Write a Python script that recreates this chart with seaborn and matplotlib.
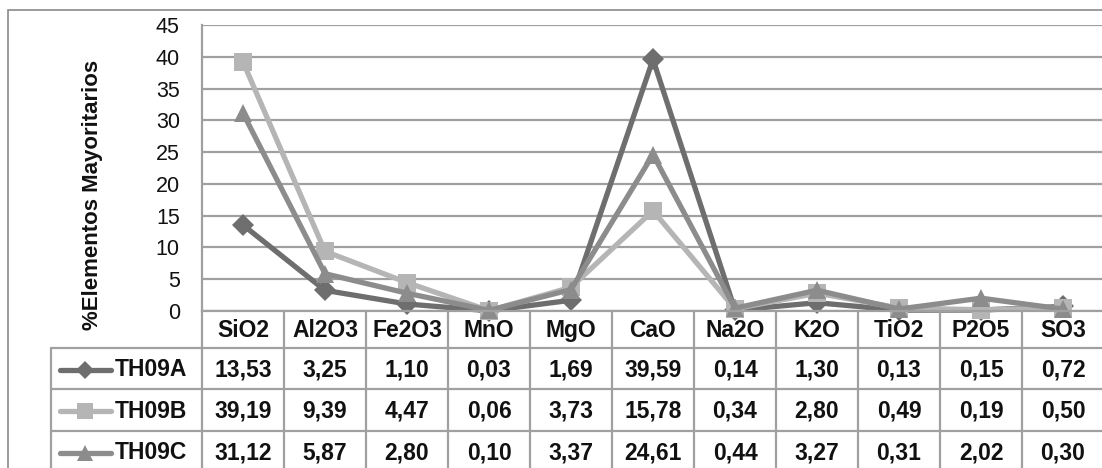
import matplotlib
matplotlib.use("Agg")
import matplotlib.pyplot as plt
import seaborn as sns
import pandas as pd
from matplotlib.patches import Rectangle

# ---------------- data ----------------
categories = ["SiO2", "Al2O3", "Fe2O3", "MnO", "MgO", "CaO", "Na2O", "K2O", "TiO2", "P2O5", "SO3"]
th09a = [13.53, 3.25, 1.10, 0.03, 1.69, 39.59, 0.14, 1.30, 0.13, 0.15, 0.72]
th09b = [39.19, 9.39, 4.47, 0.06, 3.73, 15.78, 0.34, 2.80, 0.49, 0.19, 0.50]
th09c = [31.12, 5.87, 2.80, 0.10, 3.37, 24.61, 0.44, 3.27, 0.31, 2.02, 0.30]
series_names = ["TH09A", "TH09B", "TH09C"]
y_ticks = [0, 5, 10, 15, 20, 25, 30, 35, 40, 45]
y_label = "%Elementos Mayoritarios"

series_values = [th09a, th09b, th09c]
colors = {"TH09A": "#6e6e6e", "TH09B": "#b5b5b5", "TH09C": "#8c8c8c"}
markers = {"TH09A": "D", "TH09B": "s", "TH09C": "^"}
msizes = {"TH09A": 11.5, "TH09B": 13, "TH09C": 13}

rows = []
for name, vals in zip(series_names, series_values):
    for i, (c, v) in enumerate(zip(categories, vals)):
        rows.append({"idx": i, "cat": c, "serie": name, "val": v})
df = pd.DataFrame(rows)

# ---------------- layout (pixels) ----------------
W, H = 1102, 468
sns.set_style("white")
plt.rcParams["font.family"] = ["Liberation Sans", "DejaVu Sans"]

fig = plt.figure(figsize=(W / 100, H / 100), dpi=100)
plot_left, plot_right = 202, 1104
plot_top, plot_bottom = 25, 311
col_w = (plot_right - plot_left) / len(categories)
tab_left = 51

ax = fig.add_axes([plot_left / W, 1 - plot_bottom / H,
                   (plot_right - plot_left) / W, (plot_bottom - plot_top) / H])

grid_c = "#a0a0a0"
for name in series_names:
    sub = df[df["serie"] == name]
    sns.lineplot(data=sub, x="idx", y="val", ax=ax, color=colors[name],
                 marker=markers[name], markersize=msizes[name], markeredgewidth=0,
                 lw=3.8, legend=False, clip_on=False)
ax.set_xlabel("")
ax.set_ylabel("")
ax.set_xlim(-0.5, len(categories) - 0.5)
ax.set_ylim(0, 45)
ax.set_yticks(y_ticks)
ax.yaxis.grid(True, color=grid_c, lw=1.6)
ax.set_axisbelow(True)
for s in ["top", "right"]:
    ax.spines[s].set_visible(False)
for s in ["left", "bottom"]:
    ax.spines[s].set_color(grid_c)
    ax.spines[s].set_linewidth(1.6)
ax.tick_params(axis="y", length=0, pad=16, labelsize=15.5, labelcolor="#111111")
ax.set_xticks([])

fig.text(93 / W, 1 - 195 / H, y_label, rotation=90, ha="center", va="center",
         fontsize=16, fontweight="bold", color="#111111")

# ---------------- data table ----------------
def px2u(px):
    return (px - plot_left) / col_w - 0.5

tab = fig.add_axes([0, 0, 1, 1 - plot_bottom / H], facecolor="none")
tab.set_xlim(px2u(0), px2u(W))
tab.set_ylim(H, plot_bottom)
tab.axis("off")

row_edges = [311, 348, 389.5, 431, 472.5]
line_kw = dict(color=grid_c, lw=1.6, clip_on=False)
for y in row_edges[1:-1]:
    tab.plot([px2u(tab_left), len(categories) - 0.5], [y, y], **line_kw)
for k in range(len(categories) + 1):
    x = k - 0.5
    tab.plot([x, x], [row_edges[0], H + 5], **line_kw)
tab.plot([px2u(tab_left)] * 2, [row_edges[1], H + 5], **line_kw)

fs = 16.5
for i, c in enumerate(categories):
    tab.text(i, (row_edges[0] + row_edges[1]) / 2 + 1.5, c, ha="center", va="center",
             fontsize=fs, fontweight="bold", color="#111111")
for r, (name, vals) in enumerate(zip(series_names, series_values)):
    yc = (row_edges[r + 1] + row_edges[r + 2]) / 2 + 1
    for i, v in enumerate(vals):
        tab.text(i, yc, f"{v:.2f}".replace(".", ","), ha="center", va="center",
                 fontsize=fs, fontweight="bold", color="#111111")
    tab.plot([px2u(60), px2u(111)], [yc, yc], color=colors[name], lw=3.8,
             solid_capstyle="round", clip_on=False)
    tab.plot([px2u(85)], [yc], marker=markers[name], color=colors[name],
             markersize=msizes[name] - 2, markeredgewidth=0, clip_on=False)
    tab.text(px2u(115), yc, name, ha="left", va="center", fontsize=fs,
             fontweight="bold", color="#111111")

# outer chart border
fig.patches.append(Rectangle((8 / W, -0.05), 1.2, 1 - 10 / H + 0.05,
                             transform=fig.transFigure, fill=False,
                             edgecolor="#8a8a8a", lw=1.2))

fig.savefig("out.png", dpi=100)
